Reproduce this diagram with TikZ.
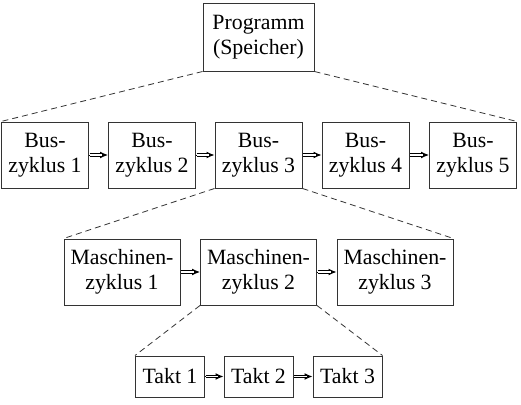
\documentclass[tikz,border=0pt]{standalone}
\usepackage{fontspec}
\setmainfont{Liberation Serif}
\usetikzlibrary{arrows.meta}
\begin{document}
\begin{tikzpicture}[x=1pt,y=-1pt,
  box/.style={draw=black!80, line width=1pt, align=center, inner sep=0pt,
    font=\fontsize{21.8}{25}\selectfont},
  busbox/.style={box, minimum width=87pt, minimum height=66pt},
  mbox/.style={box, minimum width=116pt, minimum height=66pt},
  tbox/.style={box, minimum width=69pt, minimum height=41pt},
  tip/.style={draw=black, line width=1pt, -{Latex[length=8pt,width=7pt]}},
  dbl/.style={draw=black, double=white, double distance=1.2pt, line width=1pt,
    shorten <=0.5pt, shorten >=6pt},
  dsh/.style={draw=black!80, line width=0.8pt, dash pattern=on 6pt off 4pt}
]
\useasboundingbox (0,0) rectangle (521,404);
\node[box, minimum width=111pt, minimum height=67pt] (prog) at (258.5,37.5) {Programm\\(Speicher)};
\node[busbox] (b1) at (45,155) {Bus-\\zyklus 1};
\node[busbox] (b2) at (152,155) {Bus-\\zyklus 2};
\node[busbox] (b3) at (258.5,155) {Bus-\\zyklus 3};
\node[busbox] (b4) at (365.5,155) {Bus-\\zyklus 4};
\node[busbox] (b5) at (473,155) {Bus-\\zyklus 5};
\node[mbox] (m1) at (122,272) {Maschinen-\\zyklus 1};
\node[mbox] (m2) at (258.5,272) {Maschinen-\\zyklus 2};
\node[mbox] (m3) at (395,272) {Maschinen-\\zyklus 3};
\node[tbox] (t1) at (170,376.5) {Takt 1};
\node[tbox] (t2) at (258.5,376.5) {Takt 2};
\node[tbox] (t3) at (347.5,376.5) {Takt 3};
\foreach \a/\b in {b1/b2,b2/b3,b3/b4,b4/b5,m1/m2,m2/m3,t1/t2,t2/t3}{
  \draw[tip] (\a) -- (\b);
  \draw[dbl] (\a) -- (\b);
}
\draw[dsh] (prog.south west) -- (b1.north west);
\draw[dsh] (prog.south east) -- (b5.north east);
\draw[dsh] (b3.south west) -- (m1.north west);
\draw[dsh] (b3.south east) -- (m3.north east);
\draw[dsh] (m2.south west) -- (t1.north west);
\draw[dsh] (m2.south east) -- (t3.north east);
\end{tikzpicture}
\end{document}
